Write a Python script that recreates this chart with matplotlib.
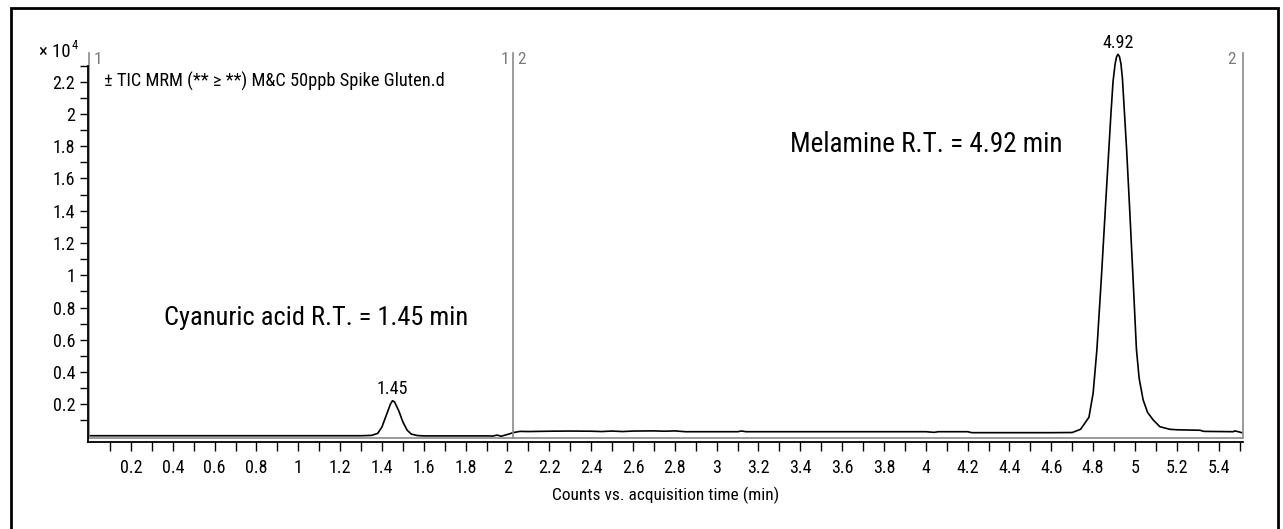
import numpy as np
import matplotlib.pyplot as plt
from matplotlib.patches import Rectangle
from matplotlib.ticker import FixedLocator

plt.rcParams['font.family'] = ['Roboto Condensed', 'DejaVu Sans']

# chromatogram trace (time in min, counts in units of 1e4)
time_min = [0.00, 0.50, 1.00, 1.30, 1.35, 1.38, 1.40, 1.42, 1.44, 1.45, 1.46, 1.48,
            1.50, 1.52, 1.54, 1.57, 1.60, 1.90, 1.93, 1.95, 1.97, 2.00, 2.03, 2.06,
            2.10, 2.20, 2.30, 2.40, 2.45, 2.50, 2.55, 2.60, 2.70, 2.75, 2.80, 2.85,
            3.00, 3.10, 3.12, 3.14, 3.50, 4.00, 4.04, 4.06, 4.20, 4.22, 4.60, 4.70,
            4.74, 4.78, 4.80, 4.818, 4.84, 4.86, 4.875, 4.885, 4.895, 4.905, 4.912, 4.919,
            4.926, 4.933, 4.94, 4.95, 4.96, 4.975, 4.99, 5.007, 5.02, 5.039, 5.06, 5.087,
            5.119, 5.166, 5.20, 5.31, 5.33, 5.40, 5.47, 5.477, 5.50, 5.51]
counts_e4 = [0.005, 0.005, 0.005, 0.005, 0.007, 0.02, 0.06, 0.13, 0.20, 0.222, 0.215, 0.16,
             0.09, 0.04, 0.015, 0.006, 0.004, 0.004, 0.003, 0.009, 0.002, 0.013, 0.025, 0.032,
             0.031, 0.033, 0.034, 0.033, 0.031, 0.034, 0.031, 0.034, 0.035, 0.033, 0.035, 0.030,
             0.030, 0.030, 0.034, 0.030, 0.030, 0.030, 0.026, 0.030, 0.030, 0.024, 0.024, 0.025,
             0.045, 0.12, 0.27, 0.54, 1.00, 1.45, 1.78, 2.00, 2.20, 2.31, 2.355, 2.37,
             2.355, 2.31, 2.22, 2.00, 1.78, 1.40, 1.00, 0.54, 0.36, 0.227, 0.15, 0.103,
             0.061, 0.045, 0.042, 0.039, 0.032, 0.031, 0.030, 0.035, 0.028, 0.024]

peak_times = [1.45, 4.92]
peak_heights = [0.222, 2.37]
segment_edges = [0.0, 2.027, 5.515]

x_major = [0.2, 0.4, 0.6, 0.8, 1, 1.2, 1.4, 1.6, 1.8, 2, 2.2, 2.4, 2.6, 2.8,
           3, 3.2, 3.4, 3.6, 3.8, 4, 4.2, 4.4, 4.6, 4.8, 5, 5.2, 5.4]
y_major = [0.2, 0.4, 0.6, 0.8, 1, 1.2, 1.4, 1.6, 1.8, 2, 2.2]

fig = plt.figure(figsize=(12.83, 5.29), dpi=100)

# outer frame
fig.patches.append(Rectangle((11 / 1283, -0.02), (1278 - 11) / 1283, 1.02 - 8 / 529,
                             transform=fig.transFigure, fill=False, lw=2, ec='black'))

ax = fig.add_axes([87.7 / 1283, (529 - 441.7) / 529, 1155 / 1283, 388.7 / 529])
ax.set_xlim(-0.007, segment_edges[-1])
ax.set_ylim(-0.032, 2.378)

ax.plot(time_min, counts_e4, color='black', lw=1.2)

# segment lines
ax.plot([0, segment_edges[-1]], [-0.008, -0.008], color='#8a8a8a', lw=1.2)
for xs in segment_edges:
    ax.plot([xs, xs], [-0.008, 2.378], color='#8a8a8a', lw=1.2, clip_on=False)

lab = dict(color='#7a7a7a', fontsize=12.5, va='top', clip_on=False)
ax.annotate('1', (0, 2.378), xytext=(3, 1), textcoords='offset points', ha='left', **lab)
ax.annotate('1', (segment_edges[1], 2.378), xytext=(-3, 1), textcoords='offset points', ha='right', **lab)
ax.annotate('2', (segment_edges[1], 2.378), xytext=(3, 1), textcoords='offset points', ha='left', **lab)
ax.annotate('2', (segment_edges[2], 2.378), xytext=(-5, 1), textcoords='offset points', ha='right', **lab)

# axes styling
for s in ['top', 'right']:
    ax.spines[s].set_visible(False)
ax.spines['left'].set_bounds(-0.032, 2.3)
ax.spines['left'].set_linewidth(1.3)
ax.spines['bottom'].set_linewidth(1.3)

ax.set_xticks(x_major)
ax.set_xticklabels([f'{v:g}' for v in x_major])
ax.xaxis.set_minor_locator(FixedLocator(np.arange(0.1, 5.51, 0.2)))
ax.set_yticks(y_major)
ax.set_yticklabels([f'{v:g}' for v in y_major])
ax.yaxis.set_minor_locator(FixedLocator(np.arange(0.1, 2.31, 0.2)))
ax.tick_params(axis='x', which='both', direction='out', length=6.5, width=1, pad=6, labelsize=13)
ax.tick_params(axis='y', which='both', direction='out', length=6, width=1, pad=3, labelsize=13)

# peak labels
for t, h in zip(peak_times, peak_heights):
    ax.annotate(f'{t:.2f}', (t, h), xytext=(0, 2), textcoords='offset points',
                ha='center', va='bottom', fontsize=13, clip_on=False)

ax.text(3.35, 1.81, 'Melamine R.T. = 4.92 min', fontsize=19.5, va='center', ha='left')
ax.text(0.357, 0.735, 'Cyanuric acid R.T. = 1.45 min', fontsize=19, va='center', ha='left')
ax.text(0.07, 2.2, '± TIC MRM (** ≥ **) M&C 50ppb Spike Gluten.d', fontsize=13.2,
        va='center', ha='left')

fig.text(71 / 1283, 1 - 52 / 529, '× 10', fontsize=13.5, ha='right', va='center')
fig.text(72 / 1283, 1 - 46 / 529, '4', fontsize=9, ha='left', va='center')
fig.text(666 / 1283, 1 - 495 / 529, 'Counts vs. acquisition time (min)', fontsize=12.5,
         ha='center', va='center')

fig.savefig('out.png', dpi=100)
